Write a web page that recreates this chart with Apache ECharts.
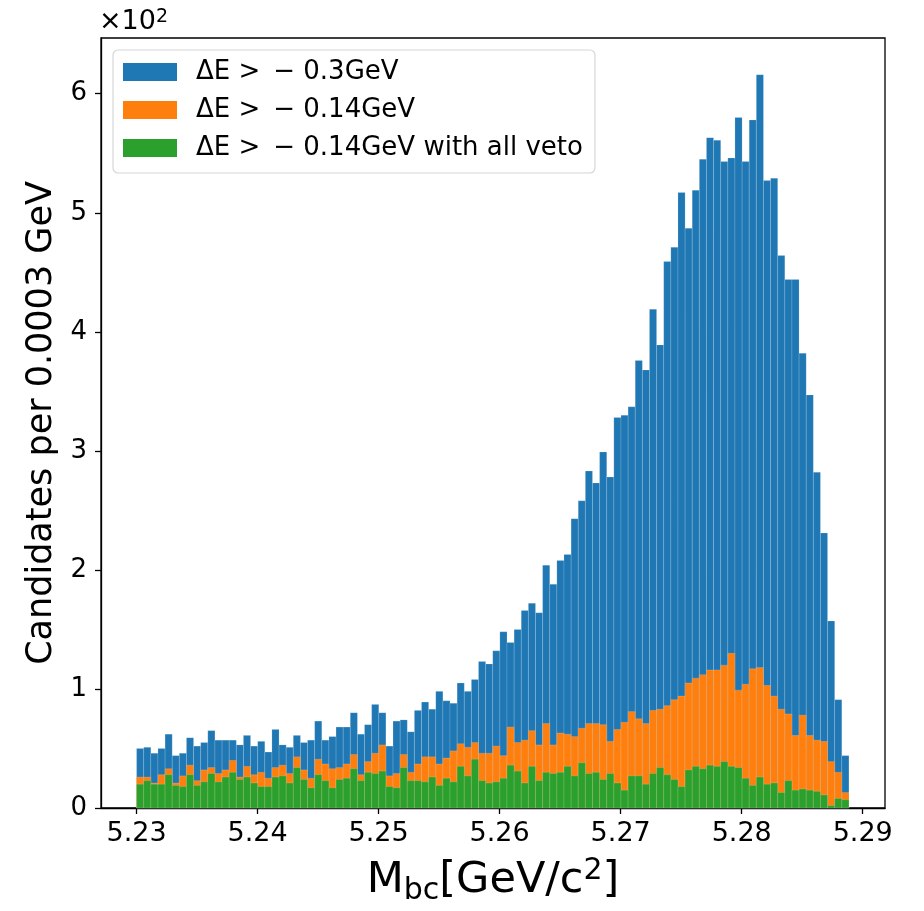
<!DOCTYPE html>
<html>
<head>
<meta charset="utf-8">
<script src="https://cdn.jsdelivr.net/npm/echarts@6/dist/echarts.min.js"></script>
<style>
  html, body { margin: 0; padding: 0; background: #fff; }
  #main { width: 924px; height: 911px; }
</style>
</head>
<body>
<div id="main"></div>
<script>
// histogram: 100 bins starting at 5.23
var binStart = 5.23;
var binWidth = 0.05886 / 100;

var seriesNames = [
    'ΔE >\u2002− 0.3GeV',
    'ΔE >\u2002− 0.14GeV',
    'ΔE >\u2002− 0.14GeV with all veto'
];

var countsLoose = [
    50, 51, 46, 50, 62, 44, 46, 59, 52, 55,
    65, 57, 57, 57, 53, 61, 52, 56, 47, 66,
    53, 51, 61, 55, 57, 73, 57, 60, 68, 68,
    80, 62, 70, 87, 80, 52, 73, 74, 64, 82,
    89, 83, 98, 90, 88, 105, 98, 108, 123, 121,
    132, 148, 139, 150, 166, 172, 164, 204, 188, 208,
    213, 243, 258, 283, 273, 299, 278, 328, 330, 337,
    376, 368, 419, 389, 459, 471, 517, 487, 519, 545,
    563, 561, 543, 546, 580, 543, 578, 616, 527, 529,
    464, 444, 444, 382, 347, 282, 231, 157, 91, 44
];

var countsTight = [
    26, 26, 21, 28, 33, 21, 27, 36, 23, 32,
    34, 29, 32, 40, 26, 35, 28, 30, 25, 34,
    36, 29, 43, 32, 25, 41, 37, 33, 34, 37,
    45, 28, 39, 46, 53, 27, 29, 45, 30, 37,
    43, 43, 37, 42, 48, 54, 51, 55, 46, 46,
    52, 44, 68, 55, 57, 65, 53, 71, 53, 63,
    62, 60, 67, 71, 71, 70, 56, 66, 72, 81,
    75, 71, 82, 83, 86, 91, 94, 105, 109, 112,
    116, 116, 120, 130, 99, 104, 117, 118, 103, 94,
    83, 79, 61, 78, 61, 57, 56, 39, 30, 13
];

var countsVeto = [
    20, 23, 20, 20, 28, 19, 18, 28, 19, 22,
    29, 22, 26, 30, 24, 26, 21, 18, 18, 26,
    27, 21, 34, 24, 17, 28, 23, 17, 24, 25,
    33, 23, 30, 29, 31, 18, 17, 34, 23, 23,
    22, 26, 19, 25, 22, 35, 27, 41, 23, 21,
    22, 25, 36, 31, 21, 35, 23, 30, 29, 30,
    35, 27, 38, 29, 30, 24, 29, 21, 15, 27,
    27, 20, 29, 34, 28, 24, 18, 32, 35, 33,
    36, 35, 39, 35, 34, 25, 19, 26, 20, 21,
    13, 23, 15, 16, 15, 14, 11, 2, 8, 7
];

var colors = ['#1f77b4', '#ff7f0e', '#2ca02c'];
var xTicks = [5.23, 5.24, 5.25, 5.26, 5.27, 5.28, 5.29];
var yTicks = [0, 100, 200, 300, 400, 500, 600];

var fontFamily = 'DejaVu Sans';

function toBins(counts) {
    return counts.map(function (c, i) {
        var lo = binStart + i * binWidth;
        return [lo, lo + binWidth, c];
    });
}

function renderBar(params, api) {
    var top = api.coord([api.value(0), api.value(2)]);
    var bottom = api.coord([api.value(1), 0]);
    return {
        type: 'rect',
        shape: {
            x: top[0],
            y: top[1],
            width: bottom[0] - top[0],
            height: bottom[1] - top[1]
        },
        style: api.style({
            stroke: 'rgba(255,255,255,0.25)',
            lineWidth: 0.6
        })
    };
}

var allCounts = [countsLoose, countsTight, countsVeto];
var series = allCounts.map(function (counts, k) {
    return {
        type: 'custom',
        name: seriesNames[k],
        renderItem: renderBar,
        itemStyle: { color: colors[k] },
        encode: { x: [0, 1], y: 2 },
        data: toBins(counts)
    };
});

var myChart = echarts.init(document.getElementById('main'));

var option = {
    animation: false,
    backgroundColor: '#fff',
    textStyle: { fontFamily: fontFamily },
    title: {
        text: '×10{sup|2}',
        left: 99,
        top: 8,
        padding: 0,
        textStyle: {
            fontFamily: fontFamily,
            fontSize: 27,
            fontWeight: 'normal',
            color: '#000',
            rich: {
                sup: { fontSize: 19, verticalAlign: 'top', fontFamily: fontFamily, color: '#000' }
            }
        }
    },
    legend: {
        orient: 'vertical',
        left: 113,
        top: 50,
        icon: 'rect',
        itemWidth: 54,
        itemHeight: 18,
        itemGap: 8,
        padding: [7, 12, 10, 10],
        borderColor: '#d6d6d6',
        borderWidth: 1.2,
        borderRadius: 5,
        backgroundColor: 'rgba(255,255,255,0.8)',
        textStyle: {
            fontFamily: fontFamily,
            fontSize: 26,
            lineHeight: 30,
            color: '#000',
            padding: [0, 0, 0, 14]
        },
        data: seriesNames
    },
    grid: {
        left: 101,
        right: 39,
        top: 38,
        bottom: 94,
        show: true,
        borderColor: '#000',
        borderWidth: 1.3,
        backgroundColor: 'transparent'
    },
    xAxis: {
        type: 'value',
        min: 5.22706,
        max: 5.29184,
        name: 'M{sub|bc}[GeV/c{sup|2}]',
        nameLocation: 'middle',
        nameGap: 48,
        nameTextStyle: {
            fontFamily: fontFamily,
            fontSize: 43,
            color: '#000',
            lineHeight: 50,
            rich: {
                sub: { fontFamily: fontFamily, fontSize: 30, lineHeight: 24, verticalAlign: 'bottom', color: '#000' },
                sup: { fontFamily: fontFamily, fontSize: 30, lineHeight: 30, verticalAlign: 'top', color: '#000' }
            }
        },
        axisLine: { show: true, onZero: false, lineStyle: { color: '#000', width: 1.3 } },
        axisTick: {
            show: true,
            length: 6,
            customValues: xTicks,
            lineStyle: { color: '#000', width: 1.3 }
        },
        axisLabel: {
            customValues: xTicks,
            fontFamily: fontFamily,
            fontSize: 27,
            color: '#000',
            margin: 12,
            formatter: function (v) { return v.toFixed(2); }
        },
        splitLine: { show: false }
    },
    yAxis: {
        type: 'value',
        min: 0,
        max: 646.8,
        name: 'Candidates per 0.0003 GeV',
        nameLocation: 'middle',
        nameGap: 41,
        nameTextStyle: {
            fontFamily: fontFamily,
            fontSize: 35,
            color: '#000'
        },
        axisLine: { show: true, lineStyle: { color: '#000', width: 1.3 } },
        axisTick: {
            show: true,
            length: 6,
            customValues: yTicks,
            lineStyle: { color: '#000', width: 1.3 }
        },
        axisLabel: {
            customValues: yTicks,
            fontFamily: fontFamily,
            fontSize: 26,
            color: '#000',
            margin: 14,
            formatter: function (v) { return String(Math.round(v / 100)); }
        },
        splitLine: { show: false }
    },
    series: series
};

myChart.setOption(option);
</script>
</body>
</html>
